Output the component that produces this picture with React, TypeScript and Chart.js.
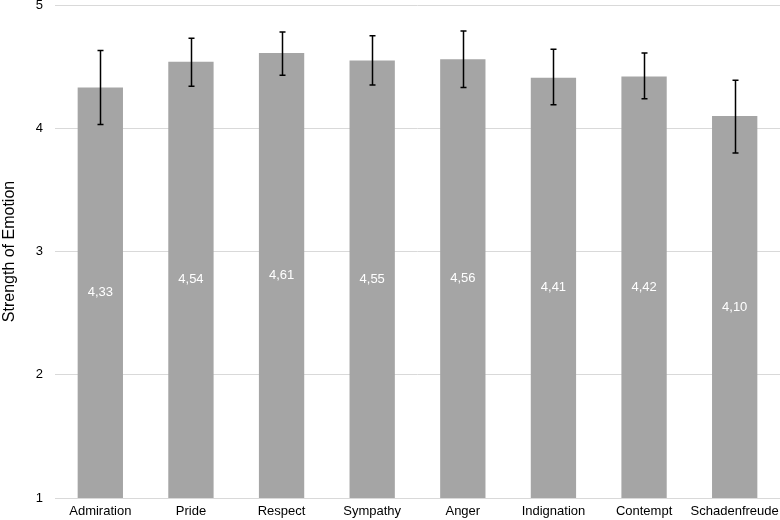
import React, { useEffect, useRef } from "react";
import { Chart, registerables } from "chart.js";

Chart.register(...registerables);

const categories = ["Admiration", "Pride", "Respect", "Sympathy", "Anger", "Indignation", "Contempt", "Schadenfreude"];
const means = [4.33, 4.54, 4.61, 4.55, 4.56, 4.41, 4.42, 4.10];
const errUpper = [4.63, 4.73, 4.78, 4.75, 4.79, 4.64, 4.61, 4.39];
const errLower = [4.03, 4.34, 4.43, 4.35, 4.33, 4.19, 4.24, 3.80];
const yTicks = [1, 2, 3, 4, 5];

const FONT = "'Liberation Sans', Arial, sans-serif";

const errorBarPlugin = {
  id: "errorBars",
  afterDatasetsDraw(chart: any) {
    const ctx = chart.ctx;
    const meta = chart.getDatasetMeta(0);
    const y = chart.scales.y;
    ctx.save();
    ctx.strokeStyle = "#000000";
    ctx.lineWidth = 1.5;
    meta.data.forEach((bar: any, i: number) => {
      const x = Math.round(bar.x) + 0.5;
      const yt = y.getPixelForValue(errUpper[i]);
      const yb = y.getPixelForValue(errLower[i]);
      ctx.beginPath();
      ctx.moveTo(x, yt);
      ctx.lineTo(x, yb);
      ctx.moveTo(x - 3, yt);
      ctx.lineTo(x + 3, yt);
      ctx.moveTo(x - 3, yb);
      ctx.lineTo(x + 3, yb);
      ctx.stroke();
    });
    ctx.restore();
  },
};

const valueLabelPlugin = {
  id: "valueLabels",
  afterDatasetsDraw(chart: any) {
    const ctx = chart.ctx;
    const meta = chart.getDatasetMeta(0);
    const y = chart.scales.y;
    const basePx = y.getPixelForValue(y.min);
    ctx.save();
    ctx.fillStyle = "#ffffff";
    ctx.font = `13px ${FONT}`;
    ctx.textAlign = "center";
    ctx.textBaseline = "middle";
    meta.data.forEach((bar: any, i: number) => {
      const midY = (bar.y + basePx) / 2;
      ctx.fillText(means[i].toFixed(2).replace(".", ","), bar.x, midY);
    });
    ctx.restore();
  },
};

export default function App() {
  const ref = useRef<HTMLCanvasElement | null>(null);
  useEffect(() => {
    if (!ref.current) return;
    const chart = new Chart(ref.current, {
      type: "bar",
      data: {
        labels: categories,
        datasets: [
          {
            data: means,
            backgroundColor: "#a5a5a5",
            borderWidth: 0,
            barPercentage: 0.5,
            categoryPercentage: 1,
          },
        ],
      },
      options: {
        responsive: false,
        animation: false,
        layout: { padding: { top: 5, right: 0, left: 0, bottom: 0 } },
        plugins: {
          legend: { display: false },
          tooltip: { enabled: false },
        },
        scales: {
          x: {
            grid: { display: false, drawTicks: false },
            border: { display: true, color: "#d9d9d9", width: 1 },
            ticks: { color: "#000000", font: { family: FONT, size: 13 }, maxRotation: 0, autoSkip: false, padding: 6 },
            afterFit: (s: any) => {
              s.paddingLeft = 0;
              s.paddingRight = 0;
              s.height = 22;
            },
          },
          y: {
            min: 1,
            max: 5,
            afterBuildTicks: (axis: any) => {
              axis.ticks = yTicks.map((v) => ({ value: v }));
            },
            afterFit: (s: any) => {
              s.paddingTop = 0;
              s.paddingBottom = 0;
              s.width = 55;
            },
            grid: { color: "#d9d9d9", lineWidth: 1, drawTicks: false },
            border: { display: false },
            ticks: { color: "#000000", font: { family: FONT, size: 13 }, padding: 12 },
            title: {
              display: true,
              text: "Strength of Emotion",
              color: "#000000",
              font: { family: FONT, size: 16 },
              padding: { top: 0, bottom: 16 },
            },
          },
        },
      },
      plugins: [errorBarPlugin, valueLabelPlugin],
    });
    return () => chart.destroy();
  }, []);
  return (
    <div style={{ position: "fixed", left: 0, top: 0, width: 780, height: 520, background: "#fff" }}>
      <canvas ref={ref} width={780} height={520} style={{ width: 780, height: 520 }} />
    </div>
  );
}
